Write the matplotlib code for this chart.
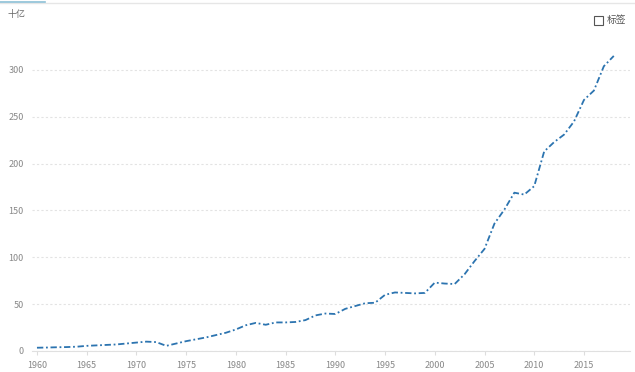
import numpy as np
import matplotlib.pyplot as plt

plt.rcParams['font.family'] = ['Noto Sans CJK SC', 'DejaVu Sans']

years = list(range(1960, 2019))
values = [3.5, 3.7, 4.0, 4.2, 4.6, 5.5, 6.0, 6.5, 7.0, 8.0,
          9.0, 10.0, 9.5, 5.5, 8.0, 10.5, 12.5, 14.5, 17.0, 19.5,
          23.0, 27.5, 30.0, 28.0, 30.5, 30.5, 31.0, 33.0, 38.0, 40.0,
          39.5, 45.0, 48.0, 51.0, 51.5, 60.0, 62.5, 62.0, 61.5, 62.0,
          73.0, 72.0, 71.5, 82.0, 96.0, 109.0, 136.0, 151.0, 169.0, 167.0,
          176.0, 213.0, 223.0, 231.0, 245.0, 268.0, 278.0, 304.0, 315.0]
xticks = [1960, 1965, 1970, 1975, 1980, 1985, 1990, 1995, 2000, 2005, 2010, 2015]
yticks = [0, 50, 100, 150, 200, 250, 300]

W, H = 635, 372
fig = plt.figure(figsize=(W / 100, H / 100), dpi=100)
ax = fig.add_axes([32 / W, (H - 351) / H, (630 - 32) / W, (351 - 40) / H])

ax.plot(years, values, color='#2c74b0', lw=1.3, linestyle=(0, (3.5, 1.5, 1, 1.5)))

ax.set_xlim(1959.5, 2019.63)
ax.set_ylim(0, 332)
ax.set_xticks(xticks)
ax.set_yticks(yticks)
ax.tick_params(axis='x', length=3, color='#dddddd', labelsize=6.5, labelcolor='#888888', pad=4)
ax.tick_params(axis='y', length=0, labelsize=6.5, labelcolor='#888888', pad=6)
ax.grid(axis='y', color='#e3e3e3', linestyle=(0, (2, 2)), lw=0.8)
for s in ['top', 'right', 'left']:
    ax.spines[s].set_visible(False)
ax.spines['bottom'].set_color('#e0e0e0')

# top border and header texts
fig.add_artist(plt.Line2D([0, 1], [1 - 3 / H, 1 - 3 / H], color='#e6e6e6', lw=1))
fig.add_artist(plt.Line2D([0, 45 / W], [1 - 2 / H, 1 - 2 / H], color='#8cc0d6', lw=1.2))
fig.text(8 / W, 1 - 15 / H, '十亿', fontsize=6.5, color='#666666', va='center')
fig.patches.append(plt.Rectangle((594 / W, 1 - 25 / H), 9 / W, 9 / H, transform=fig.transFigure,
                                 fill=False, edgecolor='#555555', lw=0.8))
fig.text(607 / W, 1 - 20.5 / H, '标签', fontsize=7, color='#555555', va='center')

fig.savefig('out.png', dpi=100)
